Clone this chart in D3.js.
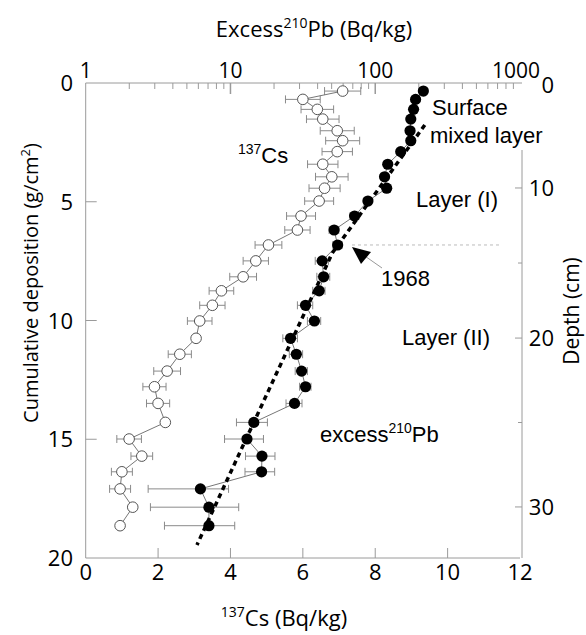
<!DOCTYPE html>
<html>
<head>
<meta charset="utf-8">
<script src="https://cdn.jsdelivr.net/npm/d3@7/dist/d3.min.js"></script>
<style>
body { margin: 0; background: #fff; }
text { font-family: "Open Sans", sans-serif; fill: #000; }
.note { font-family: "Liberation Sans", Arial, sans-serif; }
</style>
</head>
<body>
<script>
// cumulative deposition (g/cm2) of each core slice
const mass = [0.34, 0.69, 1.11, 1.52, 2.01, 2.43, 2.89, 3.42, 3.95, 4.43, 4.97, 5.60, 6.19, 6.82, 7.49, 8.16,
    8.75, 9.36, 10.02, 10.75, 11.42, 12.13, 12.79, 13.49, 14.29, 14.99, 15.71, 16.37, 17.09, 17.86, 18.64];
// 137Cs (Bq/kg) and its error
const cs137 = [7.1, 6.0, 6.4, 6.55, 6.95, 7.1, 6.95, 6.55, 6.8, 6.6, 6.45, 5.95, 5.85, 5.05, 4.7, 4.35,
    3.75, 3.5, 3.15, 3.05, 2.6, 2.25, 1.9, 2.0, 2.2, 1.2, 1.55, 1.0, 0.95, 1.3, 0.95];
const cs137Err = [0.5, 0.48, 0.45, 0.45, 0.47, 0.47, 0.42, 0.42, 0.45, 0.43, 0.4, 0.4, 0.35, 0.37, 0.35, 0.37,
    0.34, 0.35, 0.34, 0, 0.32, 0.37, 0.32, 0.32, 0, 0.34, 0.3, 0.29, 0.29, 0, 0];
// excess 210Pb (Bq/kg) and its error
const pb210 = [215, 190, 184, 176, 174, 176, 150, 122, 116, 120, 89, 72, 52, 55, 43, 44,
    41, 33, 38, 26, 28.5, 31, 33, 27.7, 14.5, 13, 16.5, 16.4, 6.2, 7.1, 7.1];
const pb210Err = [8, 8, 8, 8, 8, 8, 7, 6, 6, 6, 5, 5, 4, 4, 4.5, 4.5,
    4, 4, 4, 3, 3, 3, 3, 3.5, 3.5, 3.9, 3.8, 3.8, 3.5, 4.3, 3.6];
// dotted regression line for excess 210Pb
const fitPb = [220, 50.5, 5.87];
const fitMass = [1.77, 7.16, 19.45];
// depth (cm) ticks and the cumulative deposition they sit at
const depthTicks = [0, 10, 20, 30];
const depthMass = [0, 4.42, 10.74, 17.85];
const massTicks = [0, 5, 10, 15, 20];
const csTicks = [0, 2, 4, 6, 8, 10, 12];
const pbTicks = [1, 10, 100, 1000];
const mark1968 = 6.82;

const width = 586, height = 635;
const pLeft = 85.7, pRight = 520, pTop = 83, pBottom = 558;
const axisColor = '#9a9a9a';

const svg = d3.select('body').append('svg')
    .attr('width', width)
    .attr('height', height);

const x = d3.scaleLinear().domain([0, 12]).range([pLeft, pRight]);
const xPb = d3.scaleLog().domain([1, 1000]).range([pLeft, pRight]);
const y = d3.scaleLinear().domain([0, 20]).range([pTop, pBottom]);
const yDepth = d3.scaleLinear().domain(depthTicks).range(depthMass.map(y));

// frame
svg.append('line').attr('x1', pLeft).attr('x2', pLeft).attr('y1', pTop).attr('y2', pBottom).attr('stroke', axisColor);
svg.append('line').attr('x1', pLeft).attr('x2', pRight).attr('y1', pBottom).attr('y2', pBottom).attr('stroke', axisColor);
svg.append('line').attr('x1', pLeft).attr('x2', pRight + 2).attr('y1', pTop).attr('y2', pTop).attr('stroke', axisColor);
svg.append('line').attr('x1', pRight + 2).attr('x2', pRight + 2).attr('y1', 150).attr('y2', pBottom).attr('stroke', axisColor);

// left ticks + labels
svg.selectAll('.ytick').data(massTicks.slice(1, -1)).enter().append('line')
    .attr('x1', pLeft).attr('x2', pLeft + 11)
    .attr('y1', d => y(d)).attr('y2', d => y(d))
    .attr('stroke', axisColor);
svg.selectAll('.ylab').data(massTicks).enter().append('text')
    .attr('x', 73).attr('y', d => y(d) + 8)
    .attr('text-anchor', 'end')
    .style('font-size', '22px')
    .text(d => d);

// bottom ticks + labels
svg.selectAll('.xtick').data(csTicks.slice(1, -1)).enter().append('line')
    .attr('x1', d => x(d)).attr('x2', d => x(d))
    .attr('y1', pBottom).attr('y2', pBottom - 10)
    .attr('stroke', axisColor);
svg.selectAll('.xlab').data(csTicks).enter().append('text')
    .attr('x', d => x(d)).attr('y', 580)
    .attr('text-anchor', 'middle')
    .style('font-size', '22px')
    .text(d => d);

// top log ticks
const minor = [];
for (let p = 1; p < 1000; p *= 10) {
    for (let k = 2; k <= 9; k++) minor.push(p * k);
}
svg.selectAll('.ptick').data(minor).enter().append('line')
    .attr('x1', d => xPb(d)).attr('x2', d => xPb(d))
    .attr('y1', pTop).attr('y2', pTop + 6)
    .attr('stroke', axisColor);
svg.selectAll('.pmajor').data(pbTicks.slice(1, -1)).enter().append('line')
    .attr('x1', d => xPb(d)).attr('x2', d => xPb(d))
    .attr('y1', pTop).attr('y2', pTop + 11)
    .attr('stroke', axisColor).attr('stroke-width', 1.5);
svg.selectAll('.plab').data(pbTicks).enter().append('text')
    .attr('x', d => xPb(d) - (d === 1000 ? 4 : 0)).attr('y', 78)
    .attr('text-anchor', 'middle')
    .style('font-size', '21px')
    .text(d => d);

// right depth ticks
const depthMinor = [15, 25];
svg.selectAll('.dtick').data(depthTicks.slice(1)).enter().append('line')
    .attr('x1', pRight + 2).attr('x2', pRight - 5)
    .attr('y1', d => yDepth(d)).attr('y2', d => yDepth(d))
    .attr('stroke', axisColor);
svg.selectAll('.dminor').data(depthMinor).enter().append('line')
    .attr('x1', pRight + 2).attr('x2', pRight - 2)
    .attr('y1', d => yDepth(d)).attr('y2', d => yDepth(d))
    .attr('stroke', axisColor);
svg.selectAll('.dlab').data(depthTicks).enter().append('text')
    .attr('x', 554).attr('y', d => yDepth(d) + 8 + (d === 0 ? 2 : 0))
    .attr('text-anchor', 'end')
    .style('font-size', '22px')
    .text(d => d);

// axis titles
const t1 = svg.append('text').attr('x', 314).attr('y', 37).attr('text-anchor', 'middle').style('font-size', '22px');
t1.append('tspan').text('Excess');
t1.append('tspan').attr('dy', -9).style('font-size', '14px').text('210');
t1.append('tspan').attr('dy', 9).text('Pb (Bq/kg)');

const t2 = svg.append('text').attr('x', 284).attr('y', 626).attr('text-anchor', 'middle').style('font-size', '22px');
t2.append('tspan').attr('dy', -9).style('font-size', '14px').text('137');
t2.append('tspan').attr('dy', 9).text('Cs (Bq/kg)');

const t3 = svg.append('text').attr('transform', 'translate(38,283) rotate(-90)').attr('text-anchor', 'middle').style('font-size', '20px');
t3.append('tspan').text('Cumulative deposition  (g/cm');
t3.append('tspan').attr('dy', -8).style('font-size', '13px').text('2');
t3.append('tspan').attr('dy', 8).text(')');

svg.append('text').attr('transform', 'translate(579,311) rotate(-90)').attr('text-anchor', 'middle')
    .style('font-size', '21px').text('Depth (cm)');

// 1968 marker
svg.append('line').attr('x1', 352).attr('x2', 502).attr('y1', y(mark1968)).attr('y2', y(mark1968))
    .attr('stroke', '#bbb').attr('stroke-dasharray', '3,3');
svg.append('line').attr('x1', 362).attr('y1', 254).attr('x2', 382).attr('y2', 268).attr('stroke', '#999');
svg.append('path').attr('d', 'M352,247 L371,252 L361,264 Z').attr('fill', '#000');

const rows = mass.map((m, i) => ({m, cs: cs137[i], csE: cs137Err[i], pb: pb210[i], pbE: pb210Err[i]}));
const errColor = '#8a8a8a';

// Cs error bars
const csRows = rows.filter(d => d.csE > 0);
svg.selectAll('.cserr').data(csRows).enter().append('line')
    .attr('x1', d => x(d.cs - d.csE)).attr('x2', d => x(d.cs + d.csE))
    .attr('y1', d => y(d.m)).attr('y2', d => y(d.m)).attr('stroke', errColor);
svg.selectAll('.cscapl').data(csRows).enter().append('line')
    .attr('x1', d => x(d.cs - d.csE)).attr('x2', d => x(d.cs - d.csE))
    .attr('y1', d => y(d.m) - 4).attr('y2', d => y(d.m) + 4).attr('stroke', errColor);
svg.selectAll('.cscapr').data(csRows).enter().append('line')
    .attr('x1', d => x(d.cs + d.csE)).attr('x2', d => x(d.cs + d.csE))
    .attr('y1', d => y(d.m) - 4).attr('y2', d => y(d.m) + 4).attr('stroke', errColor);

// Pb error bars
svg.selectAll('.pberr').data(rows).enter().append('line')
    .attr('x1', d => xPb(d.pb - d.pbE)).attr('x2', d => xPb(d.pb + d.pbE))
    .attr('y1', d => y(d.m)).attr('y2', d => y(d.m)).attr('stroke', errColor);
svg.selectAll('.pbcapl').data(rows).enter().append('line')
    .attr('x1', d => xPb(d.pb - d.pbE)).attr('x2', d => xPb(d.pb - d.pbE))
    .attr('y1', d => y(d.m) - 4).attr('y2', d => y(d.m) + 4).attr('stroke', errColor);
svg.selectAll('.pbcapr').data(rows).enter().append('line')
    .attr('x1', d => xPb(d.pb + d.pbE)).attr('x2', d => xPb(d.pb + d.pbE))
    .attr('y1', d => y(d.m) - 4).attr('y2', d => y(d.m) + 4).attr('stroke', errColor);

// connecting lines
svg.append('path').datum(rows)
    .attr('d', d3.line().x(d => x(d.cs)).y(d => y(d.m)))
    .attr('fill', 'none').attr('stroke', '#777');
svg.append('path').datum(rows)
    .attr('d', d3.line().x(d => xPb(d.pb)).y(d => y(d.m)))
    .attr('fill', 'none').attr('stroke', '#777');

// markers
svg.selectAll('.csdot').data(rows).enter().append('circle')
    .attr('cx', d => x(d.cs)).attr('cy', d => y(d.m)).attr('r', 5.3)
    .attr('fill', '#fff').attr('stroke', '#555');
svg.selectAll('.pbdot').data(rows).enter().append('circle')
    .attr('cx', d => xPb(d.pb)).attr('cy', d => y(d.m)).attr('r', 5.6)
    .attr('fill', '#000');

// fitted line
svg.append('path').datum(fitPb.map((p, i) => [p, fitMass[i]]))
    .attr('d', d3.line().x(d => xPb(d[0])).y(d => y(d[1])))
    .attr('fill', 'none').attr('stroke', '#000').attr('stroke-width', 3.5)
    .attr('stroke-dasharray', '5,4');

// annotations
const n1 = svg.append('text').attr('class', 'note').attr('x', 238).attr('y', 163).style('font-size', '22px');
n1.append('tspan').attr('dy', -9).style('font-size', '14px').text('137');
n1.append('tspan').attr('dy', 9).text('Cs');

svg.append('text').attr('class', 'note').attr('x', 432).attr('y', 115).style('font-size', '22px').text('Surface');
svg.append('text').attr('class', 'note').attr('x', 430).attr('y', 143).style('font-size', '22px').text('mixed layer');
svg.append('text').attr('class', 'note').attr('x', 498).attr('y', 207).attr('text-anchor', 'end').style('font-size', '22px').text('Layer (I)');
svg.append('text').attr('class', 'note').attr('x', 490).attr('y', 345).attr('text-anchor', 'end').style('font-size', '22px').text('Layer (II)');
svg.append('text').attr('class', 'note').attr('x', 381).attr('y', 286).style('font-size', '22px').text('1968');

const n2 = svg.append('text').attr('class', 'note').attr('x', 320).attr('y', 442).style('font-size', '22px');
n2.append('tspan').text('excess');
n2.append('tspan').attr('dy', -9).style('font-size', '14px').text('210');
n2.append('tspan').attr('dy', 9).text('Pb');
</script>
</body>
</html>
